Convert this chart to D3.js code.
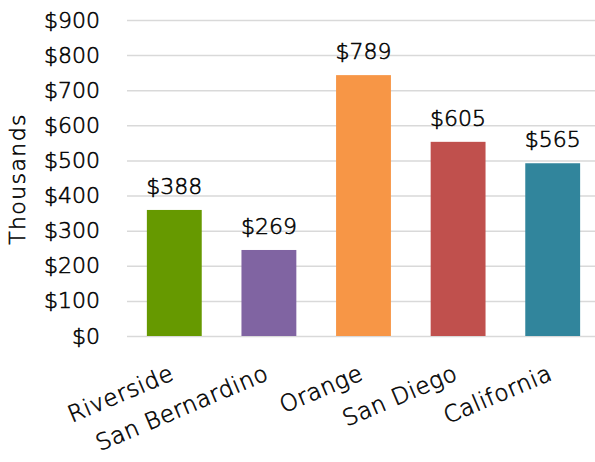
<!DOCTYPE html>
<html>
<head>
<meta charset="utf-8">
<script src="https://cdn.jsdelivr.net/npm/d3@7"></script>
<style>
  body { margin: 0; background: #fff; }
  text {
    font-family: "Century Gothic", "DejaVu Sans", sans-serif;
    font-weight: 200;
    fill: #000;
    stroke: #000;
    stroke-width: 0.55px;
  }
</style>
</head>
<body>
<div id="chart"></div>
<script>
const categories = ["Riverside", "San Bernardino", "Orange", "San Diego", "California"];
// bar heights as drawn in the picture (thousands)
const barValues = [359, 245, 743, 553, 492];
// data labels as printed above the bars
const labelValues = [388, 269, 789, 605, 565];
const colors = ["#669900", "#8064a2", "#f79646", "#c0504d", "#31859c"];
const yTicks = [0, 100, 200, 300, 400, 500, 600, 700, 800, 900];

const width = 595, height = 462;
const margin = { top: 20, right: -5, bottom: 126, left: 127 };

const svg = d3.select("#chart")
  .append("svg")
  .attr("width", width)
  .attr("height", height);

const x = d3.scaleBand()
  .domain(categories)
  .range([margin.left, width - margin.right])
  .paddingInner(0.42)
  .paddingOuter(0.21);

const y = d3.scaleLinear()
  .domain([0, 900])
  .range([height - margin.bottom, margin.top]);

// gridlines + y tick labels
const yAxis = svg.append("g")
  .attr("transform", "translate(" + margin.left + ",0)")
  .call(d3.axisLeft(y)
    .tickValues(yTicks)
    .tickSize(-(width - margin.left))
    .tickPadding(27)
    .tickFormat(d => "$" + d));
yAxis.select(".domain").remove();
yAxis.selectAll(".tick line")
  .attr("stroke", "#d9d9d9")
  .attr("stroke-width", 1.5);
yAxis.selectAll(".tick text")
  .attr("font-size", 22)
  .attr("fill", "#000");
yAxis.attr("font-family", null);

// axis title
svg.append("text")
  .attr("transform", "translate(25," + 179 + ") rotate(-90)")
  .attr("text-anchor", "middle")
  .attr("font-size", 22)
  .attr("letter-spacing", 1.4)
  .text("Thousands");

// bars
svg.selectAll(".bar")
  .data(categories)
  .enter()
  .append("rect")
  .attr("class", "bar")
  .attr("x", d => x(d))
  .attr("y", (d, i) => y(barValues[i]))
  .attr("width", x.bandwidth())
  .attr("height", (d, i) => y(0) - y(barValues[i]))
  .attr("fill", (d, i) => colors[i]);

// data labels
svg.selectAll(".label")
  .data(categories)
  .enter()
  .append("text")
  .attr("class", "label")
  .attr("x", d => x(d) + x.bandwidth() / 2)
  .attr("y", (d, i) => y(barValues[i]) - 16)
  .attr("text-anchor", "middle")
  .attr("font-size", 22)
  .text((d, i) => "$" + labelValues[i]);

// category labels, rotated
svg.selectAll(".cat")
  .data(categories)
  .enter()
  .append("text")
  .attr("class", "cat")
  .attr("transform", d => "translate(" + (x(d) + x.bandwidth() / 2 + 1) + ",379) rotate(-23)")
  .attr("text-anchor", "end")
  .attr("font-size", 23)
  .attr("letter-spacing", 0.6)
  .text(d => d);
</script>
</body>
</html>
